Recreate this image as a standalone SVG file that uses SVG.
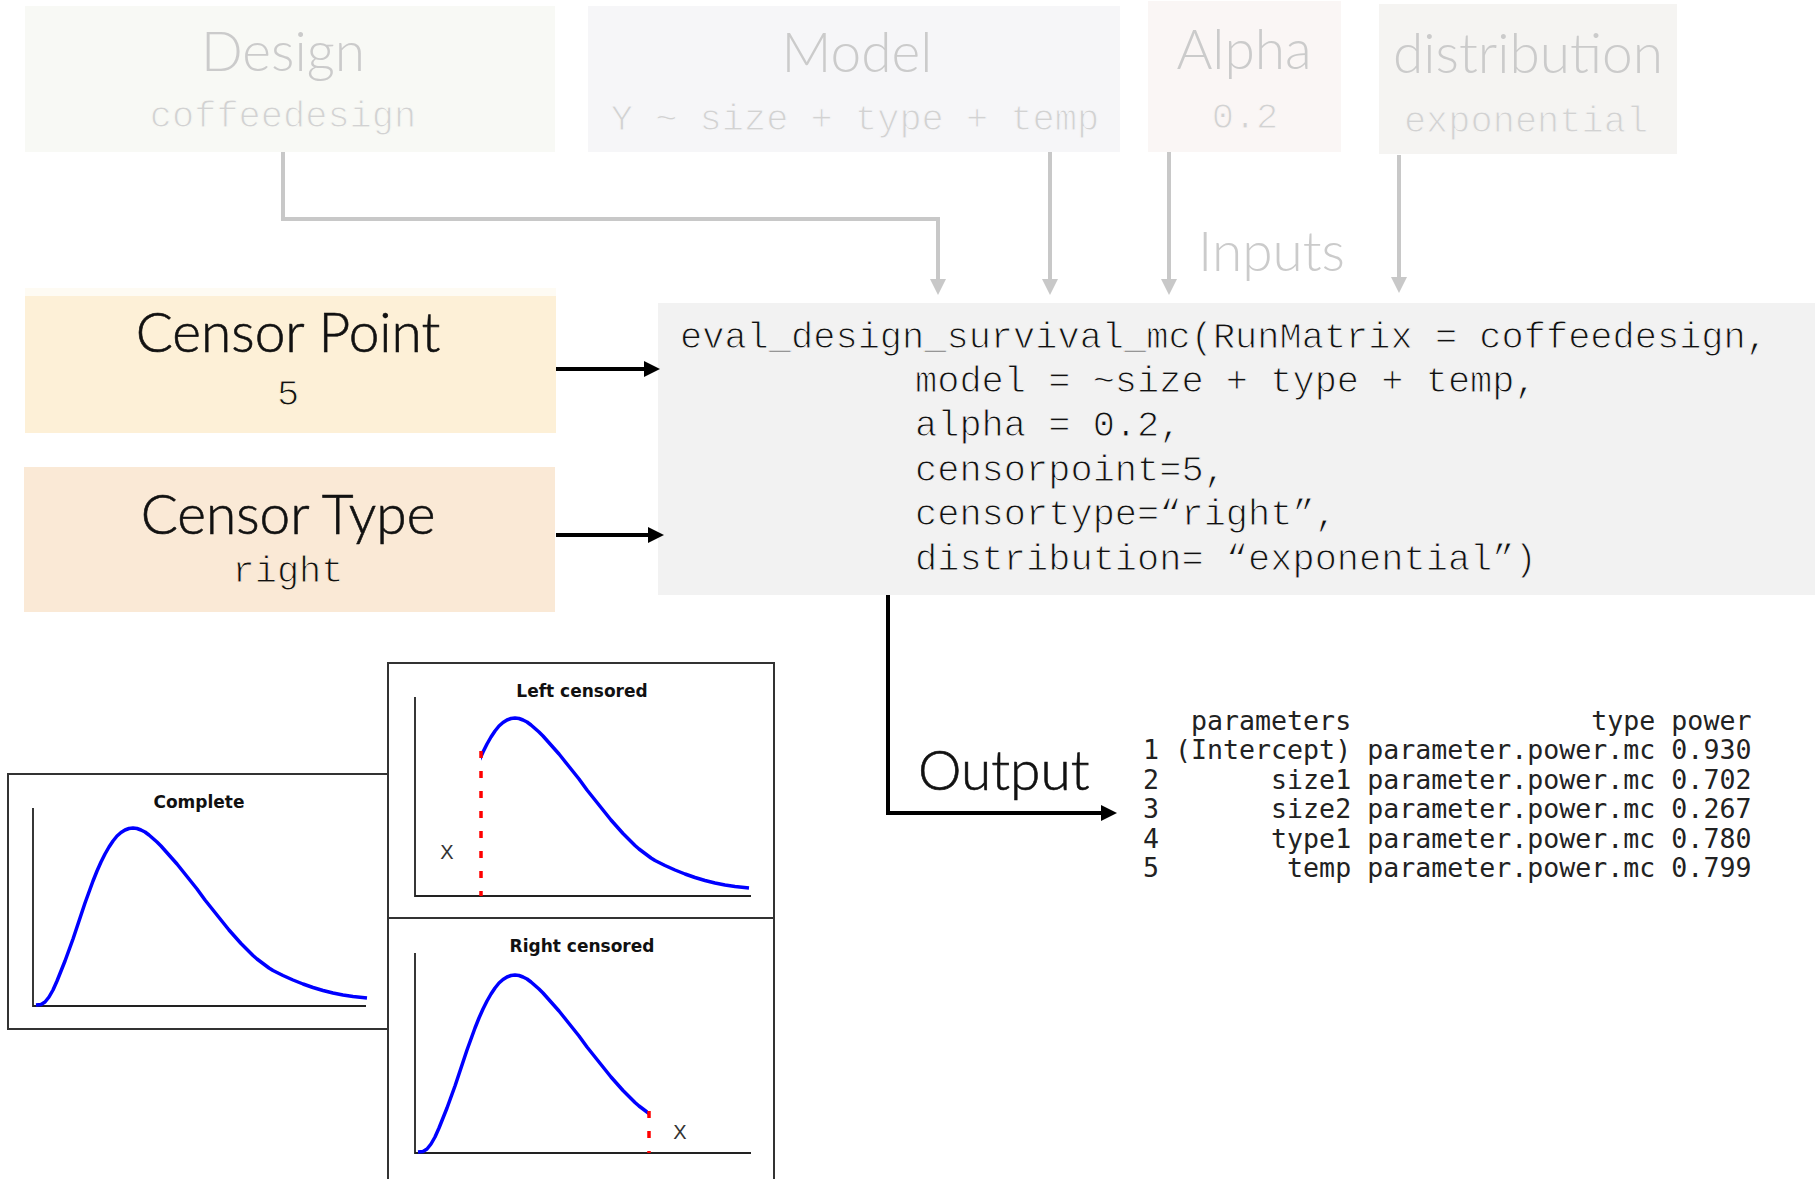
<svg xmlns="http://www.w3.org/2000/svg" xmlns:xlink="http://www.w3.org/1999/xlink" width="1819" height="1179" viewBox="0 0 1819 1179">
  <style>
    .title { font-family: "Lato", "Open Sans", sans-serif; font-weight: 300; font-size: 55px; text-anchor: middle; }
    .faded { fill: #cbcbcb; }
    .dark { fill: #111111; }
    .darktitle { stroke: #111111; stroke-width: 0.6; }
    .mono { font-family: "Liberation Mono", "Courier New", monospace; font-size: 37px; stroke-width: 1; }
    .monofaded { fill: #d2d2d2; text-anchor: middle; }
    .code { fill: #111111; white-space: pre; stroke: #f2f2f2; }
    .table { font-family: "DejaVu Sans Mono", monospace; font-size: 26.6px; fill: #222222; white-space: pre; }
    .in-link { fill: none; stroke: #c8c8c8; stroke-width: 4; }
    .out-link { fill: none; stroke: #000000; stroke-width: 4; }
    .frame { fill: #ffffff; stroke: #333333; stroke-width: 2; }
    .axis { fill: none; stroke: #222222; stroke-width: 1.8; }
    .pdf { fill: none; stroke: #0000ff; stroke-width: 3.5; stroke-linejoin: round; }
    .cut { stroke: #ff0000; stroke-width: 3.5; stroke-dasharray: 7 13; }
    .ptitle { font-family: "DejaVu Sans", "Liberation Sans", sans-serif; font-weight: bold; font-size: 17px; fill: #111111; text-anchor: middle; }
    .mark { font-family: "Liberation Sans", sans-serif; font-size: 20px; fill: #333333; text-anchor: middle; }
  </style>
  <defs>
    <marker id="grayHead" viewBox="0 0 16 16" refX="1" refY="8" markerWidth="16" markerHeight="16" markerUnits="userSpaceOnUse" orient="auto">
      <path d="M0,0 L16,8 L0,16 Z" fill="#c8c8c8"/>
    </marker>
    <marker id="blackHead" viewBox="0 0 16 16" refX="1" refY="8" markerWidth="16" markerHeight="16" markerUnits="userSpaceOnUse" orient="auto">
      <path d="M0,0 L16,8 L0,16 Z" fill="#000000"/>
    </marker>
    <!-- density curve, origin at the axes corner -->
    <path id="density" d="M3,-1 L8,-1.5 L12,-4 L16,-9 L20,-16 L24,-25 L28,-35 L32,-45 L36,-56 L40,-67 L44,-79 L48,-91 L52,-103 L56,-114 L60,-125 L64,-135 L68,-144 L72,-152 L76,-159 L80,-165 L84,-170 L88,-173.5 L92,-176 L96,-177.5 L100,-178 L104,-177.5 L108,-176 L112,-174 L116,-171 L120,-167.5 L124,-164 L128,-160 L132,-155.5 L136,-151 L140,-146.5 L144,-142 L148,-137 L152,-132 L156,-127 L160,-122 L164,-117 L168,-111.5 L172,-106 L176,-101 L180,-96 L184,-91 L188,-86 L192,-81 L196,-76 L200,-71.5 L204,-67 L208,-62.5 L212,-58.5 L216,-54.5 L220,-50.5 L224,-47 L228,-44 L232,-41 L236,-38 L240,-35.5 L250,-30.5 L260,-26 L270,-22 L280,-18.5 L290,-15.5 L300,-13 L310,-11 L320,-9.5 L334,-8"/>
    <clipPath id="clipLeft"><rect x="481" y="600" width="400" height="400"/></clipPath>
    <clipPath id="clipRight"><rect x="380" y="900" width="268" height="300"/></clipPath>
  </defs>

  <rect width="1819" height="1179" fill="#ffffff"/>

  <!-- inputs -->
  <g id="design">
    <rect x="25" y="6" width="530" height="146" fill="#f8f9f5"/>
    <text class="title faded" x="283" y="71">Design</text>
    <text class="mono monofaded" x="283" y="127" stroke="#f8f9f5">coffeedesign</text>
  </g>
  <g id="model">
    <rect x="588" y="6" width="532" height="146" fill="#f6f6f8"/>
    <text class="title faded" x="857" y="72">Model</text>
    <text class="mono monofaded" x="855" y="130" stroke="#f6f6f8">Y ~ size + type + temp</text>
  </g>
  <g id="alpha">
    <rect x="1148" y="1" width="193" height="151" fill="#faf6f5"/>
    <text class="title faded" x="1244" y="69">Alpha</text>
    <text class="mono monofaded" x="1245" y="128" stroke="#faf6f5">0.2</text>
  </g>
  <g id="distribution">
    <rect x="1379" y="4" width="298" height="150" fill="#f5f4f2"/>
    <text class="title faded" x="1528" y="73">distribution</text>
    <text class="mono monofaded" x="1526" y="132" stroke="#f5f4f2">exponential</text>
  </g>
  <g id="inputs-label">
    <text class="title faded" x="1198" y="271" style="text-anchor:start">Inputs</text>
  </g>

  <g id="censor-point">
    <rect x="25" y="288" width="531" height="8" fill="#fefbf3"/>
    <rect x="25" y="296" width="531" height="137" fill="#fdf0d7"/>
    <text class="title dark darktitle" x="288" y="352">Censor Point</text>
    <text class="mono dark" x="288" y="405" text-anchor="middle" stroke="#fdf0d7">5</text>
  </g>
  <g id="censor-type">
    <rect x="24" y="467" width="531" height="145" fill="#fae9d6"/>
    <text class="title dark darktitle" x="288" y="534">Censor Type</text>
    <text class="mono dark" x="288" y="582" text-anchor="middle" stroke="#fae9d6">right</text>
  </g>

  <!-- function call -->
  <g id="call">
    <rect x="658" y="303" width="1157" height="292" fill="#f2f2f2"/>
    <text class="mono code" x="680" y="347.5">eval_design_survival_mc(RunMatrix = coffeedesign,</text>
    <text class="mono code" x="915" y="391.9">model = ~size + type + temp,</text>
    <text class="mono code" x="915" y="436.3">alpha = 0.2,</text>
    <text class="mono code" x="915" y="480.7">censorpoint=5,</text>
    <text class="mono code" x="915" y="525.1">censortype=“right”,</text>
    <text class="mono code" x="915" y="569.5">distribution= “exponential”)</text>
  </g>

  <!-- result table -->
  <g id="output-label">
    <text class="title dark darktitle" x="918" y="790" style="text-anchor:start">Output</text>
  </g>
  <g id="result">
    <text class="table" x="1143" y="730" xml:space="preserve">   parameters               type power</text>
    <text class="table" x="1143" y="759" xml:space="preserve">1 (Intercept) parameter.power.mc 0.930</text>
    <text class="table" x="1143" y="788.6" xml:space="preserve">2       size1 parameter.power.mc 0.702</text>
    <text class="table" x="1143" y="818.2" xml:space="preserve">3       size2 parameter.power.mc 0.267</text>
    <text class="table" x="1143" y="847.8" xml:space="preserve">4       type1 parameter.power.mc 0.780</text>
    <text class="table" x="1143" y="877.4" xml:space="preserve">5        temp parameter.power.mc 0.799</text>
  </g>

  <!-- censoring sketches -->
  <g id="plot-complete">
    <rect class="frame" x="8" y="774" width="380" height="255"/>
    <text class="ptitle" x="199" y="808">Complete</text>
    <path class="axis" d="M33,808 V1006 H366"/>
    <use href="#density" xlink:href="#density" class="pdf" transform="translate(33,1006)"/>
  </g>
  <g id="plot-left">
    <rect class="frame" x="388" y="663" width="386" height="255"/>
    <text class="ptitle" x="582" y="697">Left censored</text>
    <path class="axis" d="M415,697 V896 H751"/>
    <g clip-path="url(#clipLeft)">
      <use href="#density" xlink:href="#density" class="pdf" transform="translate(415,896)"/>
    </g>
    <line class="cut" x1="481" y1="751" x2="481" y2="896"/>
    <text class="mark" x="447" y="859">X</text>
  </g>
  <g id="plot-right">
    <rect class="frame" x="388" y="918" width="386" height="280"/>
    <text class="ptitle" x="582" y="952">Right censored</text>
    <path class="axis" d="M415,953 V1153 H751"/>
    <g clip-path="url(#clipRight)">
      <use href="#density" xlink:href="#density" class="pdf" transform="translate(415,1153)"/>
    </g>
    <line class="cut" x1="649" y1="1111" x2="649" y2="1153"/>
    <text class="mark" x="680" y="1139">X</text>
  </g>

  <!-- connectors -->
  <g id="connectors">
    <path class="in-link" d="M283,152 V219 H938 V280" marker-end="url(#grayHead)"/>
    <path class="in-link" d="M1050,152 V280" marker-end="url(#grayHead)"/>
    <path class="in-link" d="M1169,152 V280" marker-end="url(#grayHead)"/>
    <path class="in-link" d="M1399,155 V278" marker-end="url(#grayHead)"/>
    <path class="out-link" d="M556,369 H645" marker-end="url(#blackHead)"/>
    <path class="out-link" d="M556,535 H649" marker-end="url(#blackHead)"/>
    <path class="out-link" d="M888,595 V813 H1102" marker-end="url(#blackHead)"/>
  </g>
</svg>
